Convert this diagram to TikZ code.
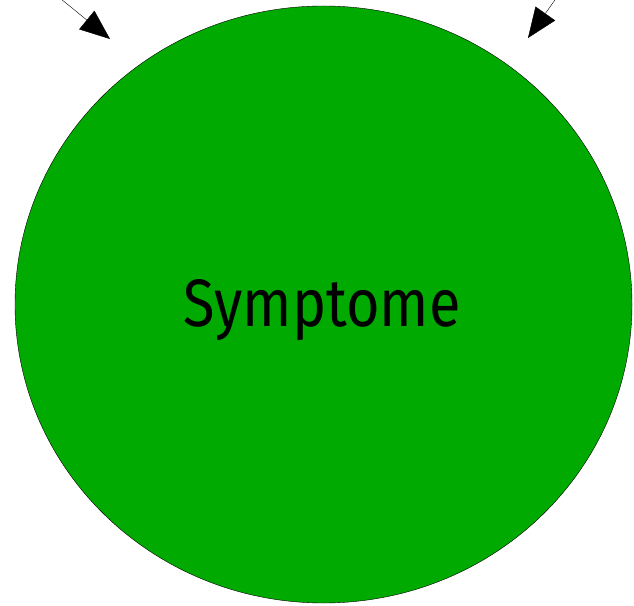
\documentclass[tikz,border=0pt]{standalone}
\usepackage{fontspec}
\setmainfont{Fira Sans}
\usetikzlibrary{arrows.meta,shapes.geometric}
\definecolor{symgreen}{HTML}{00AA00}
\tikzset{bigarrow/.style={-{Triangle[length=30pt,width=24pt]}, thin}}

\begin{document}
\begin{tikzpicture}[x=1pt, y=1pt]
            \useasboundingbox (0,0) rectangle (634,605);
            \clip (0,0) rectangle (634,605);
            \node[ellipse, draw, fill=symgreen, minimum width=617pt, minimum height=597pt, inner sep=0pt] (symptome) at (323.5,300.5) {};
            \node[font=\fontsize{67}{72}\selectfont, anchor=base, xscale=0.86, transform shape] (label) at (322,278) {Symptome};
            % incoming arrows
            \coordinate (a1) at (50,615); \coordinate (t1) at (110,566);
            \coordinate (a2) at (562,615); \coordinate (t2) at (528,567);
            \draw[bigarrow] (a1) -- (t1);
            \draw[bigarrow] (a2) -- (t2);
        \end{tikzpicture}
\end{document}
